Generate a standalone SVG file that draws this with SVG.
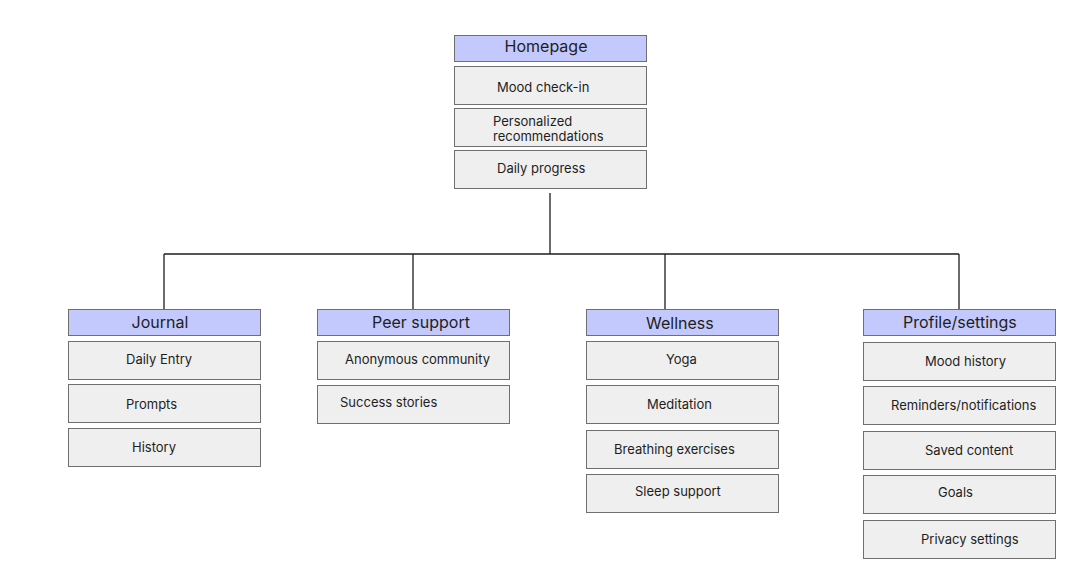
<svg xmlns="http://www.w3.org/2000/svg" width="1078" height="571" viewBox="0 0 1078 571">
<style>
.h{fill:#c3c9fd;stroke:#6f6f6f;stroke-width:1}
.i{fill:#efefef;stroke:#6f6f6f;stroke-width:1}
.ht{font-family:Inter,"Liberation Sans",sans-serif;font-size:16px;fill:#1e1e1e}
.it{font-family:Inter,"Liberation Sans",sans-serif;font-size:13px;fill:#1e1e1e}
.c{fill:none;stroke:#1e1e1e;stroke-width:1.3}
</style>
<rect width="1078" height="571" fill="#ffffff"/>
<g id="connectors">
<path class="c" d="M550 193V254M164 254H959M164 254V309M413 254V309M665 254V309M959 254V309"/>
</g>
<g id="homepage">
<rect class="h" x="454.5" y="35.5" width="192" height="26"/>
<text class="ht" x="546" y="52" text-anchor="middle">Homepage</text>
<rect class="i" x="454.5" y="66.5" width="192" height="38"/>
<text class="it" x="497" y="92">Mood check-in</text>
<rect class="i" x="454.5" y="108.5" width="192" height="38"/>
<text class="it" x="493" y="126">Personalized</text>
<text class="it" x="493" y="141">recommendations</text>
<rect class="i" x="454.5" y="150.5" width="192" height="38"/>
<text class="it" x="497" y="173">Daily progress</text>
</g>
<g id="journal">
<rect class="h" x="68.5" y="309.5" width="192" height="26"/>
<text class="ht" x="160" y="328" text-anchor="middle">Journal</text>
<rect class="i" x="68.5" y="341.5" width="192" height="38"/>
<text class="it" x="126" y="364">Daily Entry</text>
<rect class="i" x="68.5" y="384.5" width="192" height="38"/>
<text class="it" x="126" y="409">Prompts</text>
<rect class="i" x="68.5" y="428.5" width="192" height="38"/>
<text class="it" x="132" y="452">History</text>
</g>
<g id="peer-support">
<rect class="h" x="317.5" y="309.5" width="192" height="26"/>
<text class="ht" x="372" y="328">Peer support</text>
<rect class="i" x="317.5" y="341.5" width="192" height="38"/>
<text class="it" x="345" y="364">Anonymous community</text>
<rect class="i" x="317.5" y="385.5" width="192" height="38"/>
<text class="it" x="340" y="407">Success stories</text>
</g>
<g id="wellness">
<rect class="h" x="586.5" y="309.5" width="192" height="26"/>
<text class="ht" x="646" y="329">Wellness</text>
<rect class="i" x="586.5" y="341.5" width="192" height="38"/>
<text class="it" x="666" y="364">Yoga</text>
<rect class="i" x="586.5" y="385.5" width="192" height="38"/>
<text class="it" x="647" y="409">Meditation</text>
<rect class="i" x="586.5" y="430.5" width="192" height="38"/>
<text class="it" x="614" y="454">Breathing exercises</text>
<rect class="i" x="586.5" y="474.5" width="192" height="38"/>
<text class="it" x="635" y="496">Sleep support</text>
</g>
<g id="profile-settings">
<rect class="h" x="863.5" y="309.5" width="192" height="26"/>
<text class="ht" x="903" y="328">Profile/settings</text>
<rect class="i" x="863.5" y="342.5" width="192" height="38"/>
<text class="it" x="925" y="366">Mood history</text>
<rect class="i" x="863.5" y="386.5" width="192" height="38"/>
<text class="it" x="891" y="410">Reminders/notifications</text>
<rect class="i" x="863.5" y="431.5" width="192" height="38"/>
<text class="it" x="925" y="455">Saved content</text>
<rect class="i" x="863.5" y="475.5" width="192" height="38"/>
<text class="it" x="938" y="497">Goals</text>
<rect class="i" x="863.5" y="520.5" width="192" height="38"/>
<text class="it" x="921" y="544">Privacy settings</text>
</g>
</svg>
